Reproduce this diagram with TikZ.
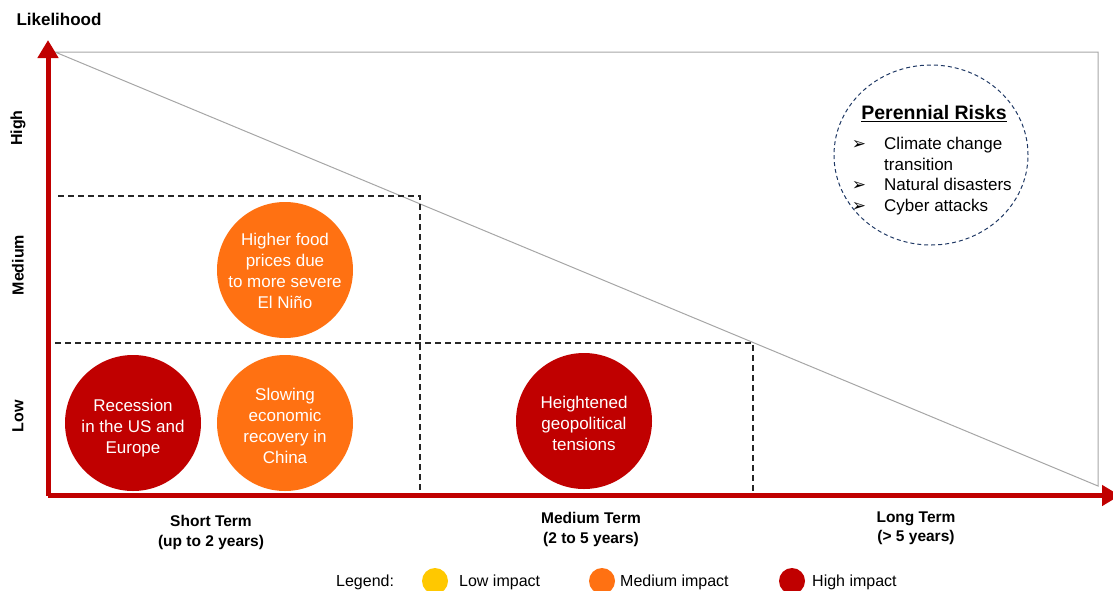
\documentclass[tikz,border=0pt]{standalone}
\usepackage{fontspec}
\setmainfont{Liberation Sans}
\newfontfamily\djv{DejaVu Sans}
\usetikzlibrary{arrows.meta}
\definecolor{axred}{HTML}{C00000}
\definecolor{medorange}{HTML}{FF7112}
\definecolor{lowyellow}{HTML}{FFC800}
\definecolor{navy}{HTML}{1F3864}
\begin{document}
\begin{tikzpicture}[x=1pt,y=-1pt,
  risk/.style={circle,minimum size=136pt,inner sep=0pt},
  risktext/.style={text=white,align=center,inner sep=0pt,font=\fontsize{17}{21}\selectfont},
  axis/.style={line width=5pt,axred,-{Triangle[length=18pt,width=20pt]}},
  grid/.style={line width=1.3pt,black!85,dash pattern=on 6pt off 4pt},
  ylab/.style={rotate=90,font=\bfseries\fontsize{16}{18}\selectfont},
  xlab/.style={align=center,font=\bfseries\fontsize{15.5}{19.5}\selectfont},
  leg/.style={font=\fontsize{16}{18}\selectfont,anchor=west,inner sep=0pt},
  legdot/.style={circle,minimum size=26pt,inner sep=0pt},
  bullet/.style={font=\djv\fontsize{17}{17}\selectfont,inner sep=0pt}]
\useasboundingbox (0,0) rectangle (1113,590);
% gray frame
\coordinate (tl) at (55,52);
\coordinate (tr) at (1098,52);
\coordinate (br) at (1098,486);
\draw[gray!70,line width=1pt] (tl) -- (tr) -- (br) -- cycle;
% dashed grid
\coordinate (h1a) at (58,196); \coordinate (h1b) at (420,196);
\coordinate (v1b) at (420,495);
\coordinate (h2a) at (55,343); \coordinate (h2b) at (753,343);
\coordinate (v2b) at (753,495);
\draw[grid] (h1a) -- (h1b) -- (v1b);
\draw[grid] (h2a) -- (h2b) -- (v2b);
% axes
\coordinate (o) at (48,495.5);
\coordinate (ytip) at (48,40);
\coordinate (xtip) at (1120,495.5);
\draw[axis] (o) -- (ytip);
\draw[axis] (o) -- (xtip);
% labels
\node[font=\bfseries\fontsize{17}{19}\selectfont] (lk) at (59,19) {Likelihood};
\node[ylab] (hi) at (18,128) {High};
\node[ylab] (me) at (18,265) {Medium};
\node[ylab] (lo) at (18,416) {Low};
\node[xlab] (st) at (211,532.5) {Short Term\\(up to 2 years)};
\node[xlab] (mt) at (591,529.5) {Medium Term\\(2 to 5 years)};
\node[xlab] (lt) at (916,528.5) {Long Term\\(> 5 years)};
% risks
\node[risk,fill=medorange] (foodC) at (285,270) {};
\node[risktext] (food) at (285,270.5) {Higher food\\prices due\\to more severe\\El Niño};
\node[risk,fill=axred] (recC) at (133,423) {};
\node[risktext] (rec) at (133,428.5) {Recession\\in the US and\\Europe};
\node[risk,fill=medorange] (slowC) at (285,423) {};
\node[risktext] (slow) at (285,425.5) {Slowing\\economic\\recovery in\\China};
\node[risk,fill=axred] (geoC) at (584,421) {};
\node[risktext] (geo) at (584,423.5) {Heightened\\geopolitical\\tensions};
% perennial
\draw[navy,line width=1pt,dash pattern=on 4pt off 3pt] (931,155) ellipse (97pt and 90pt);
\node[font=\bfseries\fontsize{19.5}{22}\selectfont] (per) at (934,113.5) {\underline{Perennial Risks}};
\node[anchor=west,align=left,inner sep=0pt,font=\fontsize{17}{20.7}\selectfont] (plist) at (884,176) {Climate change\\transition\\Natural disasters\\Cyber attacks};
\node[bullet] (b1) at (859,145) {➢};
\node[bullet] (b2) at (859,186) {➢};
\node[bullet] (b3) at (859,207) {➢};
% legend
\node[leg] (lg) at (336,582) {Legend:};
\node[legdot,fill=lowyellow] (d1) at (435,581) {};
\node[leg] (l1) at (459,582) {Low impact};
\node[legdot,fill=medorange] (d2) at (602,581) {};
\node[leg] (l2) at (620,582) {Medium impact};
\node[legdot,fill=axred] (d3) at (792,581) {};
\node[leg] (l3) at (812,582) {High impact};
\end{tikzpicture}
\end{document}
